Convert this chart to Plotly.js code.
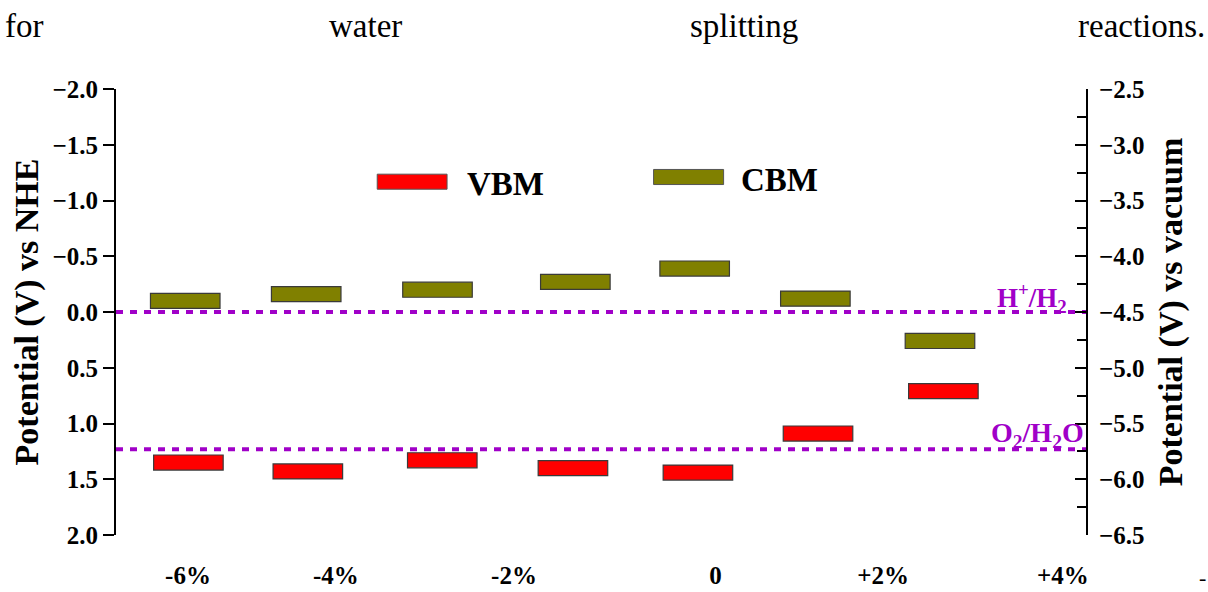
<!DOCTYPE html>
<html>
<head>
<meta charset="utf-8">
<script src="https://cdn.plot.ly/plotly-3.0.1.min.js"></script>
<style>
  html, body { margin: 0; padding: 0; background: #fff; }
  #chart { width: 1208px; height: 592px; }
</style>
</head>
<body>
<div id="chart"></div>
<script>
// ---- data ----
const cbmX = [0.994, 1.954, 2.996, 4.090, 5.037, 5.995, 6.984];
const cbmNHE = [-0.10, -0.16, -0.20, -0.27, -0.39, -0.12, 0.26];
const vbmX = [1.019, 1.967, 3.034, 4.071, 5.063, 6.016, 7.011];
const vbmNHE = [1.35, 1.43, 1.33, 1.40, 1.44, 1.09, 0.71];
const strainLabels = ['-6%', '-4%', '-2%', '0', '+2%', '+4%'];
const strainLabelPos = [1.016, 2.190, 3.603, 5.202, 6.532, 7.960];
const redoxNames = ['H<sup>+</sup>/H<sub>2</sub>', 'O<sub>2</sub>/H<sub>2</sub>O'];
const redoxNHE = [0.0, 1.23];
const vacuumOffset = -4.5; // E(vacuum) = -4.5 - E(NHE)

// ---- styling ----
const serif = 'Liberation Serif';
const purple = '#A000C8';
const levelThickness = 0.135;
const barWidth = 0.552;
const xRange = [0.4444, 8.1429];

function boldFont(size) { return { family: serif, size: size, color: '#000', weight: 'bold' }; }

function floatingBars(xs, vals, color, name) {
  return {
    type: 'bar', name: name, x: xs,
    y: vals.map(() => levelThickness),
    base: vals.map(v => v - levelThickness / 2),
    width: barWidth,
    marker: { color: color, line: { color: '#3a3a3a', width: 1.2 } },
    showlegend: false, hoverinfo: 'skip'
  };
}

const traces = [
  floatingBars(cbmX, cbmNHE, '#808000', 'CBM'),
  floatingBars(vbmX, vbmNHE, '#FF0000', 'VBM')
];
redoxNHE.forEach(v => {
  traces.push({
    type: 'scatter', mode: 'lines', x: xRange, y: [vacuumOffset - v, vacuumOffset - v],
    yaxis: 'y2', line: { color: purple, width: 4, dash: '7px,7px' },
    showlegend: false, hoverinfo: 'skip'
  });
});

const annotations = [];
annotations.push({ xref: 'paper', yref: 'y', x: 0.982, y: redoxNHE[0] - 0.13, xanchor: 'right', yanchor: 'middle',
  text: '<b>' + redoxNames[0] + '</b>', showarrow: false, font: { family: serif, size: 27, color: purple } });
annotations.push({ xref: 'paper', yref: 'y', x: 1.0, y: redoxNHE[1] - 0.13, xanchor: 'right', yanchor: 'middle',
  text: '<b>' + redoxNames[1] + '</b>', showarrow: false, font: { family: serif, size: 28, color: purple } });
annotations.push({ xref: 'paper', yref: 'paper', x: 0.3600, y: 0.786, xanchor: 'left', yanchor: 'middle',
  text: '<b>VBM</b>', showarrow: false, font: { family: serif, size: 33, color: '#000' } });
annotations.push({ xref: 'paper', yref: 'paper', x: 0.642, y: 0.795, xanchor: 'left', yanchor: 'middle',
  text: '<b>CBM</b>', showarrow: false, font: { family: serif, size: 33, color: '#000' } });
const pageWords = [
  { t: 'for', x: -0.1164, a: 'left' },
  { t: 'water', x: 0.2577, a: 'center' },
  { t: 'splitting', x: 0.6474, a: 'center' },
  { t: 'reactions.', x: 1.1247, a: 'right' }
];
pageWords.forEach(w => annotations.push({ xref: 'paper', yref: 'paper', x: w.x, y: 1.141, xanchor: w.a, yanchor: 'middle',
  text: w.t, showarrow: false, font: { family: serif, size: 33, color: '#000' } }));
annotations.push({ xref: 'paper', yref: 'paper', x: 1.1206, y: -0.0964, xanchor: 'center', yanchor: 'middle',
  text: '-', showarrow: false, font: { family: serif, size: 22, color: '#000' } });

const shapes = [
  { type: 'rect', xref: 'paper', yref: 'paper', x0: 0.2693, x1: 0.3413, y0: 0.7753, y1: 0.809,
    fillcolor: '#FF0000', line: { color: '#555', width: 1 } },
  { type: 'rect', xref: 'paper', yref: 'paper', x0: 0.5542, x1: 0.6264, y0: 0.7858, y1: 0.8196,
    fillcolor: '#808000', line: { color: '#555', width: 1 } }
];

const layout = {
  width: 1208, height: 592,
  margin: { l: 116, r: 122, t: 89, b: 57, pad: 0 },
  paper_bgcolor: '#fff', plot_bgcolor: '#fff',
  font: { family: serif, color: '#000' },
  barmode: 'overlay', showlegend: false,
  xaxis: {
    range: xRange, showline: false, showgrid: false, zeroline: false,
    tickmode: 'array', tickvals: strainLabelPos, ticktext: strainLabels,
    ticks: 'outside', ticklen: 18, tickcolor: 'rgba(0,0,0,0)', tickfont: boldFont(25), fixedrange: true
  },
  yaxis: {
    range: [2.0, -2.0], dtick: 0.5, tick0: 0, tickformat: '.1f',
    showline: true, linecolor: '#000', linewidth: 2, mirror: false,
    ticks: 'outside', ticklen: 11, tickwidth: 2, tickcolor: '#000',
    showgrid: false, zeroline: false, tickfont: boldFont(25),
    title: { text: 'Potential (V) vs NHE', standoff: 4, font: boldFont(34) }
  },
  yaxis2: {
    overlaying: 'y', side: 'right', anchor: 'x',
    range: [-6.5, -2.5], dtick: 0.5, tick0: 0, tickformat: '.1f',
    showline: true, linecolor: '#000', linewidth: 2,
    ticks: 'inside', ticklen: 11, tickwidth: 2, tickcolor: '#000',
    minor: { dtick: 0.25, ticks: 'inside', ticklen: 9, tickwidth: 2, tickcolor: '#000' },
    ticklabelstandoff: 6,
    showgrid: false, zeroline: false, tickfont: boldFont(25),
    title: { text: 'Potential (V) vs vacuum', standoff: 15, font: boldFont(34) }
  },
  annotations: annotations,
  shapes: shapes
};

Plotly.newPlot('chart', traces, layout, { displayModeBar: false, staticPlot: true });
</script>
</body>
</html>
